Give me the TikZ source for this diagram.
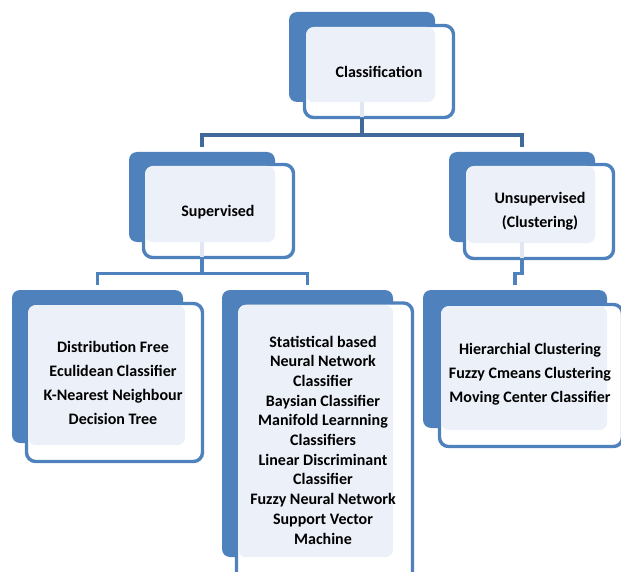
\documentclass[tikz,border=0pt]{standalone}
\usepackage{fontspec}
\setmainfont{Carlito}
\usepackage{tikz}
\usetikzlibrary{positioning}
\definecolor{accent}{HTML}{4F81BD}
\definecolor{accentdark}{HTML}{41699A}
\definecolor{paleblue}{HTML}{ECF0F8}
\definecolor{stubblue}{HTML}{E1E7F2}
\tikzstyle{back} = [rectangle, rounded corners=8pt, fill=accent, inner sep=0pt]
\tikzstyle{frame} = [rectangle, rounded corners=9pt, draw=accent, line width=3.4pt, fill=white, inner sep=0pt]
\tikzstyle{pale} = [fill=paleblue, rounded corners=8pt]
\tikzstyle{label} = [align=center, inner sep=0pt, font=\fontsize{16}{24}\selectfont\bfseries]
\tikzstyle{link} = [line width=3.4pt, draw=accentdark]
\tikzstyle{sublink} = [line width=3.4pt, draw=accent]
\tikzstyle{stub} = [line width=3.4pt, draw=stubblue]

\begin{document}
\begin{tikzpicture}[x=1pt, y=-1pt]
        \useasboundingbox (0,0) rectangle (621,572);

        % classification
        \node (cls-back) [back, minimum width=146pt, minimum height=90pt] at (362,57) {};
        \node (cls) [frame, minimum width=149pt, minimum height=92pt] at (379,71.5) {};
        \fill[pale] (306,27) rectangle (cls-back.south east);
        \node (cls-t) [label] at (379,72) {Classification};

        % supervised
        \node (sup-back) [back, minimum width=146pt, minimum height=90pt] at (202,197) {};
        \node (sup) [frame, minimum width=150pt, minimum height=93pt] at (218.5,211) {};
        \fill[pale] (145,166) rectangle (sup-back.south east);
        \node (sup-t) [label] at (218,212) {Supervised};

        % unsupervised
        \node (uns-back) [back, minimum width=146pt, minimum height=90pt] at (522,197) {};
        \node (uns) [frame, minimum width=149pt, minimum height=94pt] at (539,211.5) {};
        \fill[pale] (466,166) rectangle ([yshift=-1pt]uns-back.south east);
        \node (uns-t) [label] at (540,211) {Unsupervised\\(Clustering)};

        % distribution free
        \node (df-back) [back, minimum width=171pt, minimum height=153pt] at (97.5,366.5) {};
        \node (df) [frame, minimum width=176pt, minimum height=158pt] at (114.5,382.5) {};
        \fill[pale] (28,305) rectangle ([shift={(2pt,-2pt)}]df-back.south east);
        \node (df-t) [label] at (113,383) {Distribution Free\\Eculidean Classifier\\K-Nearest Neighbour\\Decision Tree};

        % statistical
        \node (st-back) [back, minimum width=171pt, minimum height=267pt] at (307.5,423.5) {};
        \node (st) [frame, minimum width=176pt, minimum height=280pt] at (324.5,443) {};
        \fill[pale] (238,305) rectangle (st-back.south east);
        \node (st-t) [label, font=\fontsize{16}{19.7}\selectfont\bfseries] at (323,440) {Statistical based\\Neural Network\\Classifier\\Baysian Classifier\\Manifold Learnning\\Classifiers\\Linear Discriminant\\Classifier\\Fuzzy Neural Network\\Support Vector\\Machine};

        % clustering
        \node (hc-back) [back, minimum width=184pt, minimum height=138pt] at (515,359) {};
        \node (hc) [frame, minimum width=183pt, minimum height=142pt] at (531,375.5) {};
        \fill[pale] (441,306) rectangle ([yshift=-2pt]hc-back.south east);
        \node (hc-t) [label] at (530,374) {Hierarchial Clustering\\Fuzzy Cmeans Clustering\\Moving Center Classifier};

        \draw[stub] (cls-back.south) -- ++(0,15);
        \draw[stub] (sup-back.south) -- ++(0,15);
        \draw[stub] (uns-back.south) -- ++(0,16);

        \draw[link, shorten >=5pt] ([yshift=-16pt]cls-back.south) -- ++(0,17) -| (sup-back.north);
        \draw[link, shorten >=5pt] ([yshift=-16pt]cls-back.south) -- ++(0,17) -| (uns-back.north);
        \draw[sublink, shorten >=5pt] ([yshift=-16pt]sup-back.south) -- ++(0,15) -| (df-back.north);
        \draw[sublink, shorten >=5pt] ([yshift=-16pt]sup-back.south) -- ++(0,15) -| (st-back.north);
        \draw[sublink, shorten >=5pt] ([yshift=-17pt]uns-back.south) -- ++(0,14) -| (hc-back.north);
    \end{tikzpicture}
\end{document}
